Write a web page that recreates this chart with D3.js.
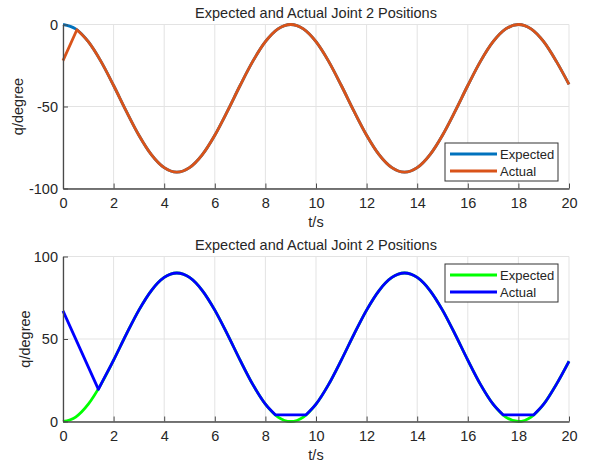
<!DOCTYPE html>
<html>
<head>
<meta charset="UTF-8" />
<script src="https://d3js.org/d3.v7.min.js"></script>
<style>
  body { margin: 0; background: #fff; }
  text { font-family: "Liberation Sans", Arial, sans-serif; fill: #262626; }
</style>
</head>
<body>
<svg id="chart" width="589" height="470"></svg>
<script>
// time samples (s)
const tSamples = [0,0.5,1,1.5,2,2.5,3,3.5,4,4.5,5,5.5,6,6.5,7,7.5,8,8.5,9,9.5,10,
  10.5,11,11.5,12,12.5,13,13.5,14,14.5,15,15.5,16,16.5,17,17.5,18,18.5,19,19.5,20];

// top plot, joint 2 (degree)
const topExpected = [0,-2.7,-10.5,-22.5,-37.2,-52.8,-67.5,-79.5,-87.3,-90,-87.3,-79.5,-67.5,-52.8,-37.2,-22.5,-10.5,-2.7,0,-2.7,-10.5,
  -22.5,-37.2,-52.8,-67.5,-79.5,-87.3,-90,-87.3,-79.5,-67.5,-52.8,-37.2,-22.5,-10.5,-2.7,0,-2.7,-10.5,-22.5,-36.5];
const topActualT = [0,0.55,1,1.5,2,2.5,3,3.5,4,4.5,5,5.5,6,6.5,7,7.5,8,8.5,9,9.5,10,
  10.5,11,11.5,12,12.5,13,13.5,14,14.5,15,15.5,16,16.5,17,17.5,18,18.5,19,19.5,20];
const topActual = [-22,-3.2,-10.5,-22.5,-37.2,-52.8,-67.5,-79.5,-87.3,-90,-87.3,-79.5,-67.5,-52.8,-37.2,-22.5,-10.5,-2.7,0,-2.7,-10.5,
  -22.5,-37.2,-52.8,-67.5,-79.5,-87.3,-90,-87.3,-79.5,-67.5,-52.8,-37.2,-22.5,-10.5,-2.7,0,-2.7,-10.5,-22.5,-36.5];
const topActualKinks = [1];

// bottom plot
const botExpected = [0,2.7,10.5,22.5,37.2,52.8,67.5,79.5,87.3,90,87.3,79.5,67.5,52.8,37.2,22.5,10.5,2.7,0,2.7,10.5,
  22.5,37.2,52.8,67.5,79.5,87.3,90,87.3,79.5,67.5,52.8,37.2,22.5,10.5,2.7,0,2.7,10.5,22.5,36.5];
const botActualT = [0,1.4,1.5,2,2.5,3,3.5,4,4.5,5,5.5,6,6.5,7,7.5,8,8.4,9.6,10,
  10.5,11,11.5,12,12.5,13,13.5,14,14.5,15,15.5,16,16.5,17,17.4,18.6,19,19.5,20];
const botActual = [67,19.5,22.5,37.2,52.8,67.5,79.5,87.3,90,87.3,79.5,67.5,52.8,37.2,22.5,10.5,4,4,10.5,
  22.5,37.2,52.8,67.5,79.5,87.3,90,87.3,79.5,67.5,52.8,37.2,22.5,10.5,4,4,10.5,22.5,36.5];
const botActualKinks = [1, 16, 17, 33, 34];

const xTicks = [0,2,4,6,8,10,12,14,16,18,20];
const title = "Expected and Actual Joint 2 Positions";
const legendNames = ["Expected", "Actual"];

const svg = d3.select("#chart");
const x = d3.scaleLinear().domain([0, 20]).range([63, 569]);
const FONT = '"Liberation Sans", Arial, sans-serif';

// split a series at its kink indices so corners stay sharp
function pieces(pts, kinks) {
  const cuts = [0, ...(kinks || []), pts.length - 1];
  const out = [];
  for (let i = 0; i < cuts.length - 1; i++) out.push(pts.slice(cuts[i], cuts[i + 1] + 1));
  return out;
}

function panel(cfg) {
  const y = d3.scaleLinear().domain(cfg.domain).range([cfg.bottom, cfg.top]);
  const g = svg.append("g");

  // grid
  g.append("g").selectAll("line").data(xTicks).join("line")
    .attr("x1", d => x(d)).attr("x2", d => x(d))
    .attr("y1", cfg.top).attr("y2", cfg.bottom)
    .attr("stroke", "#e3e3e3").attr("stroke-width", 1);
  g.append("g").selectAll("line").data(cfg.yTicks).join("line")
    .attr("x1", 63).attr("x2", 569)
    .attr("y1", d => y(d)).attr("y2", d => y(d))
    .attr("stroke", "#e3e3e3").attr("stroke-width", 1);

  const line = d3.line().curve(d3.curveMonotoneX);
  cfg.series.forEach(s => {
    const pts = s.t.map((t, i) => [x(t), y(s.v[i])]);
    const d = pieces(pts, s.kinks).map((p, i) => {
      const str = line(p);
      return i === 0 ? str : "L" + str.slice(1);
    }).join("");
    g.append("path")
      .attr("d", d)
      .attr("fill", "none")
      .attr("stroke", s.color)
      .attr("stroke-width", 2.8)
      .attr("stroke-linejoin", "round");
  });

  // axes (ticks pointing inward)
  const xAxis = d3.axisBottom(x).tickValues(xTicks).tickSizeInner(-5).tickSizeOuter(0)
    .tickPadding(9).tickFormat(d => String(d));
  const gx = g.append("g").attr("transform", `translate(0,${cfg.bottom})`).call(xAxis);
  const yAxis = d3.axisLeft(y).tickValues(cfg.yTicks).tickSizeInner(-5).tickSizeOuter(0)
    .tickPadding(5).tickFormat(d => String(d));
  const gy = g.append("g").attr("transform", "translate(63,0)").call(yAxis);
  [gx, gy].forEach(a => {
    a.select(".domain").attr("stroke", "#4a4a4a").attr("stroke-width", 1.3);
    a.selectAll(".tick line").attr("stroke", "#4a4a4a");
    a.selectAll("text").style("font-size", "14.5px").attr("fill", "#262626")
      .style("font-family", FONT);
  });

  g.append("text").attr("x", 316).attr("y", cfg.top - 6.5)
    .attr("text-anchor", "middle").style("font-size", "14.5px").text(title);
  g.append("text").attr("x", 316).attr("y", cfg.bottom + 38.5)
    .attr("text-anchor", "middle").style("font-size", "14.5px").text("t/s");
  g.append("text").attr("transform", `translate(${cfg.yLabelX},${(cfg.top + cfg.bottom) / 2}) rotate(-90)`)
    .attr("text-anchor", "middle").style("font-size", "14.5px").text("q/degree");

  // legend
  const lg = g.append("g").attr("transform", `translate(445,${cfg.legendTop})`);
  lg.append("rect").attr("width", 113).attr("height", 38)
    .attr("fill", "#fff").attr("stroke", "#333").attr("stroke-width", 1);
  cfg.series.forEach((s, i) => {
    const yy = 11 + i * 17;
    lg.append("line").attr("x1", 5).attr("x2", 52).attr("y1", yy).attr("y2", yy)
      .attr("stroke", s.color).attr("stroke-width", 2.8);
    lg.append("text").attr("x", 55).attr("y", yy + 4.5).style("font-size", "13px").text(legendNames[i]);
  });
}

panel({
  domain: [-100, 0], top: 24.5, bottom: 188.5, yTicks: [-100, -50, 0], yLabelX: 23, legendTop: 143,
  series: [
    { t: tSamples, v: topExpected, color: "#0072BD" },
    { t: topActualT, v: topActual, color: "#D95319", kinks: topActualKinks }
  ]
});
panel({
  domain: [0, 100], top: 256.5, bottom: 421.5, yTicks: [0, 50, 100], yLabelX: 30, legendTop: 264,
  series: [
    { t: tSamples, v: botExpected, color: "#00FF00" },
    { t: botActualT, v: botActual, color: "#0000FF", kinks: botActualKinks }
  ]
});
</script>
</body>
</html>
